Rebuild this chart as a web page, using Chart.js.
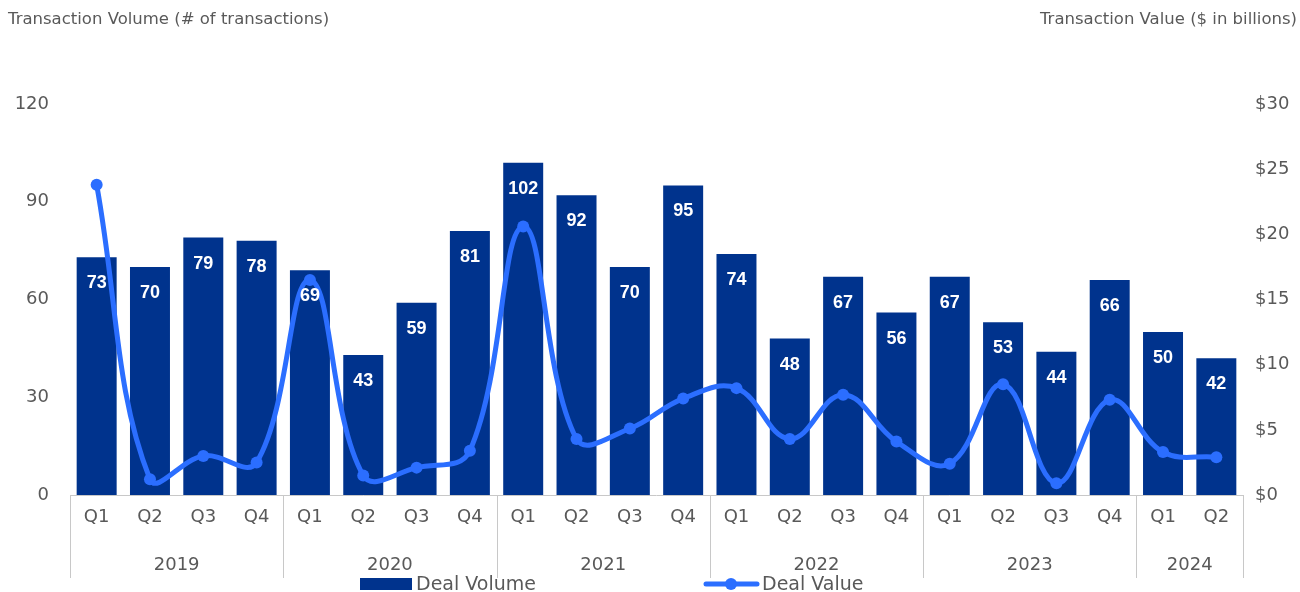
<!DOCTYPE html>
<html>
<head>
<meta charset="utf-8">
<script src="https://cdn.jsdelivr.net/npm/chart.js@4"></script>
<style>
  html, body { margin: 0; padding: 0; background: #fff; }
  #wrap { width: 1300px; height: 592px; position: relative; }
</style>
</head>
<body>
<div id="wrap"><canvas id="chart"></canvas></div>
<script>
const quarters = ["Q1","Q2","Q3","Q4","Q1","Q2","Q3","Q4","Q1","Q2","Q3","Q4","Q1","Q2","Q3","Q4","Q1","Q2","Q3","Q4","Q1","Q2"];
const years = ["2019", "2020", "2021", "2022", "2023", "2024"];
const quartersPerYear = [4, 4, 4, 4, 4, 2];
const dealVolume = [73, 70, 79, 78, 69, 43, 59, 81, 102, 92, 70, 95, 74, 48, 67, 56, 67, 53, 44, 66, 50, 42];
const dealValue = [23.8, 1.2, 3.0, 2.5, 16.5, 1.5, 2.1, 3.4, 20.6, 4.3, 5.1, 7.4, 8.2, 4.3, 7.7, 4.1, 2.4, 8.5, 0.9, 7.3, 3.3, 2.9];
const volumeTicks = [0, 30, 60, 90, 120];
const valueTicks = [0, 5, 10, 15, 20, 25, 30];

const barColor = "#00338D";
const lineColor = "#2B6EFF";
const textGray = "#595959";
const sepGray = "#C8C8C8";
const fontFamily = "'DejaVu Sans', sans-serif";
const boldFamily = "'Liberation Sans', Arial, sans-serif";

const extrasPlugin = {
    id: "extras",
    afterDatasetsDraw(chart) {
        const ctx = chart.ctx;
        const meta = chart.getDatasetMeta(1);
        ctx.save();
        ctx.fillStyle = "#fff";
        ctx.font = "bold 18px " + boldFamily;
        ctx.textAlign = "center";
        ctx.textBaseline = "middle";
        meta.data.forEach((bar, i) => {
            ctx.fillText(String(dealVolume[i]), bar.x, bar.y + 26);
        });
        ctx.restore();
    },
    afterDraw(chart) {
        const ctx = chart.ctx;
        const area = chart.chartArea;
        const x = chart.scales.x;
        const step = x.getPixelForValue(1) - x.getPixelForValue(0);
        ctx.save();

        // axis line + year group separators
        ctx.strokeStyle = sepGray;
        ctx.lineWidth = 1;
        ctx.beginPath();
        ctx.moveTo(area.left, area.bottom + 0.5);
        ctx.lineTo(area.right, area.bottom + 0.5);
        ctx.stroke();

        ctx.fillStyle = textGray;
        ctx.font = "18px " + fontFamily;
        ctx.textAlign = "center";
        ctx.textBaseline = "middle";
        let idx = 0;
        const edges = [];
        years.forEach((yr, g) => {
            const first = idx;
            const last = idx + quartersPerYear[g] - 1;
            const left = x.getPixelForValue(first) - step / 2;
            const right = x.getPixelForValue(last) + step / 2;
            edges.push(left);
            if (g === years.length - 1) edges.push(right);
            ctx.fillText(yr, (left + right) / 2, 565);
            idx = last + 1;
        });
        ctx.beginPath();
        edges.forEach(e => {
            const px = Math.round(e) + 0.5;
            ctx.moveTo(px, area.bottom);
            ctx.lineTo(px, 578);
        });
        ctx.stroke();

        // axis titles
        ctx.font = "16.5px " + fontFamily;
        ctx.textBaseline = "middle";
        ctx.textAlign = "left";
        ctx.fillText("Transaction Volume (# of transactions)", 8, 20);
        ctx.textAlign = "right";
        ctx.fillText("Transaction Value ($ in billions)", 1297, 20);

        // legend
        ctx.fillStyle = barColor;
        ctx.fillRect(360, 578, 52, 12);
        ctx.strokeStyle = lineColor;
        ctx.lineWidth = 5;
        ctx.lineCap = "round";
        ctx.beginPath();
        ctx.moveTo(706, 584);
        ctx.lineTo(757, 584);
        ctx.stroke();
        ctx.fillStyle = lineColor;
        ctx.beginPath();
        ctx.arc(731, 584, 6, 0, Math.PI * 2);
        ctx.fill();
        ctx.fillStyle = textGray;
        ctx.font = "19px " + fontFamily;
        ctx.textAlign = "left";
        ctx.textBaseline = "middle";
        ctx.fillText("Deal Volume", 416, 585);
        ctx.fillText("Deal Value", 762, 585);
        ctx.restore();
    }
};

const ctx = document.getElementById("chart").getContext("2d");
new Chart(ctx, {
    data: {
        labels: quarters,
        datasets: [
            {
                type: "line",
                label: "Deal Value",
                data: dealValue,
                yAxisID: "y1",
                borderColor: lineColor,
                backgroundColor: lineColor,
                borderWidth: 5,
                tension: 0.4,
                pointRadius: 6,
                pointHoverRadius: 6,
                pointBackgroundColor: lineColor,
                pointBorderWidth: 0,
                order: 0
            },
            {
                type: "bar",
                label: "Deal Volume",
                data: dealVolume,
                yAxisID: "y",
                backgroundColor: barColor,
                borderWidth: 0,
                barPercentage: 0.75,
                categoryPercentage: 1.0,
                order: 1
            }
        ]
    },
    options: {
        responsive: true,
        maintainAspectRatio: false,
        animation: false,
        layout: { padding: { top: 104, left: 0, right: 0, bottom: 0 } },
        plugins: {
            legend: { display: false },
            tooltip: { enabled: false }
        },
        scales: {
            x: {
                grid: { display: false, drawTicks: false },
                border: { display: false },
                ticks: {
                    color: textGray,
                    font: { size: 18, family: fontFamily },
                    padding: 12,
                    maxRotation: 0,
                    autoSkip: false
                },
                afterFit: s => { s.height = 97; }
            },
            y: {
                position: "left",
                min: 0,
                max: 120,
                grid: { display: false, drawTicks: false },
                border: { display: false },
                afterBuildTicks: s => { s.ticks = volumeTicks.map(v => ({ value: v })); },
                ticks: {
                    color: textGray,
                    font: { size: 18, family: fontFamily },
                    padding: 21
                },
                afterFit: s => { s.width = 70; }
            },
            y1: {
                position: "right",
                min: 0,
                max: 30,
                grid: { display: false, drawTicks: false },
                border: { display: false },
                afterBuildTicks: s => { s.ticks = valueTicks.map(v => ({ value: v })); },
                ticks: {
                    color: textGray,
                    font: { size: 18, family: fontFamily },
                    padding: 12,
                    callback: v => "$" + v
                },
                afterFit: s => { s.width = 57; }
            }
        }
    },
    plugins: [extrasPlugin]
});
</script>
</body>
</html>
